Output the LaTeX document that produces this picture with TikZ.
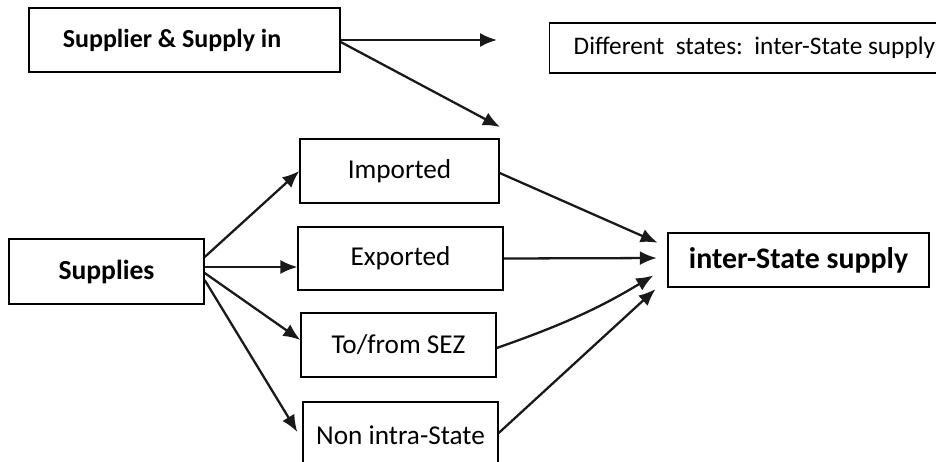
\documentclass[tikz,border=0pt]{standalone}
\usepackage{fontspec}
\setmainfont{Carlito}
\usetikzlibrary{arrows.meta}

\begin{document}
\begin{tikzpicture}[>={Latex[length=0.34cm,width=0.28cm]},x=0.02cm,y=-0.02cm]
  \tikzset{
    box/.style={draw,line width=0.8pt,inner sep=2pt,
      font=\fontsize{15.5}{18}\selectfont},
    strong/.style={box,font=\fontsize{15.7}{18}\selectfont\bfseries},
    link/.style={->,line width=1.3pt,black!90},
    into/.style={link,shorten >=6pt}
  }
  \useasboundingbox (0,0) rectangle (936,462);

  \node[strong,minimum width=6.22cm,minimum height=1.28cm,
    font=\fontsize{14.8}{17}\selectfont\bfseries] (supin) at (184.5,40)
    {Supplier \& Supply in\kern0.5cm};
  \node[box,anchor=west,inner xsep=0.48cm,minimum height=1cm,
    font=\fontsize{14.4}{17}\selectfont] (diff) at (549,48)
    {Different\ \ states:\ \ inter-State supply};
  \coordinate (tipa) at (497,40);
  \coordinate (tipb) at (500,127);

  \node[strong,minimum width=3.9cm,minimum height=1.3cm] (supplies) at (106.5,271.5) {Supplies};
  \node[box,minimum width=3.98cm,minimum height=1.28cm] (imported) at (399.5,171) {Imported};
  \node[box,minimum width=4.1cm,minimum height=1.26cm] (exported) at (400.5,258.5) {Exported};
  \node[box,minimum width=3.9cm,minimum height=1.28cm] (sez) at (398.5,345) {To/from SEZ};
  \node[box,minimum width=3.9cm,minimum height=1.32cm] (nonintra) at (400.5,435) {Non intra-State};
  \node[strong,minimum width=5.22cm,minimum height=1.08cm,
    font=\fontsize{17}{20}\selectfont\bfseries] (inter) at (798.5,260) {inter-State supply};

  \draw[link] (supin.east) -- (tipa);
  \draw[link] ([yshift=-0.04cm]supin.east) -- (tipb);

  \draw[link] ([yshift=0.29cm]supplies.east) -- (imported.west);
  \draw[link,line width=0.9pt] ([yshift=0.09cm]supplies.east) -- ([yshift=-0.17cm]exported.west);
  \draw[link] ([yshift=-0.03cm]supplies.east) -- ([yshift=0.1cm]sez.west);
  \draw[link] ([yshift=-0.17cm]supplies.east) -- ([xshift=-0.1cm,yshift=0.06cm]nonintra.west);

  \draw[into] ([yshift=-0.04cm]imported.east) -- ([yshift=0.26cm]inter.west);
  \draw[into] (exported.east) -- ([yshift=0.04cm]inter.west);
  \draw[into] ([yshift=-0.06cm]sez.east) to[bend right=6] ([xshift=-0.1cm,yshift=-0.2cm]inter.west);
  \draw[into] ([yshift=0.04cm]nonintra.east) -- ([xshift=-0.08cm,yshift=-0.44cm]inter.west);
\end{tikzpicture}
\end{document}
